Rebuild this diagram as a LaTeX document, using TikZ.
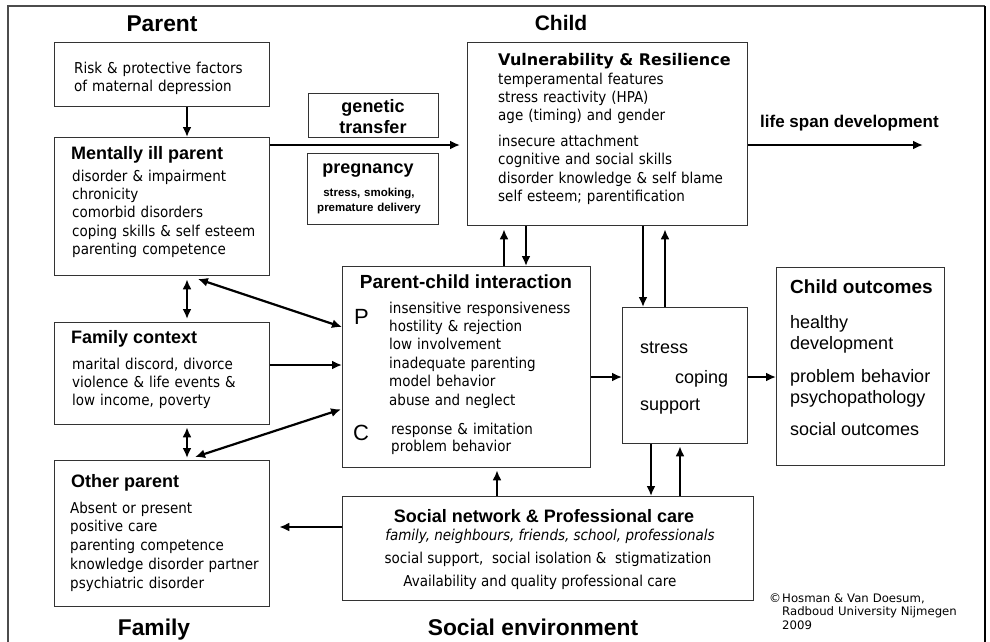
\documentclass[tikz,border=0pt]{standalone}
\usepackage{fontspec}
\usetikzlibrary{arrows.meta}
\newfontfamily\arialf{Liberation Sans}
\newfontfamily\tahf{DejaVu Sans Condensed}
\newfontfamily\verdf{DejaVu Sans}
\begin{document}
\begin{tikzpicture}[x=1pt,y=-1pt,
  box/.style={draw=black!80, line width=1.3pt, inner sep=0pt, anchor=north west},
  txt/.style={inner sep=0pt, anchor=base west, text width=#1, align=left,
     font={\tahf\fontsize{15}{18.4}\selectfont}},
  txt/.default=260pt,
  ttl/.style={inner sep=0pt, anchor=base west, font={\arialf\bfseries\fontsize{18}{21}\selectfont}},
  head/.style={inner sep=0pt, anchor=base, font={\arialf\bfseries\fontsize{22.8}{26}\selectfont}},
  arr/.style={line width=2.2pt, -{Latex[length=10pt,width=9pt]}},
  darr/.style={line width=2.2pt, {Latex[length=10pt,width=9pt]}-{Latex[length=10pt,width=9pt]}},
  ar/.style={inner sep=0pt, anchor=base west, font={\arialf\fontsize{18}{21}\selectfont}}
]
\useasboundingbox (0,0) rectangle (990,641);
\fill[white] (0,0) rectangle (990,641);
\begin{scope}
\clip (0,0) rectangle (990,641);
\draw[black!70, line width=1.4pt] (8,660) -- (8,6) -- (985,6);
\draw[black, line width=2.4pt] (985,6) -- (985,660);
\end{scope}

% headings
\node[head] (hparent) at (162,31) {Parent};
\node[head, font={\arialf\bfseries\fontsize{21}{24}\selectfont}] (hchild) at (561,30) {Child};
\node[head] (hfamily) at (154,635) {Family};
\node[head] (hsocial) at (533,635) {Social environment};

% boxes
\node[box, minimum width=215pt, minimum height=64pt] (risk) at (54,42) {};
\node[box, minimum width=215pt, minimum height=138pt] (mip) at (54,137) {};
\node[box, minimum width=215pt, minimum height=102pt] (fam) at (54,322) {};
\node[box, minimum width=215pt, minimum height=146pt] (oth) at (54,460) {};
\node[box, minimum width=130pt, minimum height=44pt] (gen) at (308,93) {};
\node[box, minimum width=131pt, minimum height=71pt] (preg) at (307,153) {};
\node[box, minimum width=280pt, minimum height=183pt] (vuln) at (467,42) {};
\node[box, minimum width=248pt, minimum height=201pt] (pci) at (342,266) {};
\node[box, minimum width=125pt, minimum height=136pt] (str) at (622,307) {};
\node[box, minimum width=168pt, minimum height=198pt] (out) at (776,267) {};
\node[box, minimum width=411pt, minimum height=104pt] (soc) at (342,496) {};

% texts: risk
\node[txt] (trisk) at (74,73) {Risk \& protective factors\\of maternal depression};
% mentally ill parent
\node[ttl] (tmip) at (71,159) {Mentally ill parent};
\node[txt] (lmip) at (72,181) {disorder \& impairment\\chronicity\\comorbid disorders\\coping skills \& self esteem\\parenting competence};
% family context
\node[ttl] (tfam) at (71,343) {Family context};
\node[txt] (lfam) at (72,369) {marital discord, divorce\\violence \& life events \&\\low income, poverty};
% other parent
\node[ttl] (toth) at (71,487) {Other parent};
\node[txt, font={\tahf\fontsize{15}{18.9}\selectfont}] (loth) at (70,513) {Absent or present\\positive care\\parenting competence\\knowledge disorder partner\\psychiatric disorder};
% genetic / pregnancy
\node[inner sep=0pt, anchor=base, text width=130pt, align=center,
      font={\arialf\bfseries\fontsize{18}{21}\selectfont}] (tgen) at (373,112) {genetic\\transfer};
\node[inner sep=0pt, anchor=base, text width=130pt, align=center,
      font={\arialf\bfseries\fontsize{18}{21}\selectfont}] (tpreg) at (368,173) {pregnancy};
\node[inner sep=0pt, anchor=base, text width=130pt, align=center,
      font={\arialf\bfseries\fontsize{11.5}{15}\selectfont}] (lpreg) at (369,196) {stress, smoking,\\premature delivery};
% vulnerability
\node[inner sep=0pt, anchor=base west, font={\verdf\bfseries\fontsize{16}{19}\selectfont}] (tvuln) at (498,65) {Vulnerability \& Resilience};
\node[txt] (lvuln) at (498,84) {temperamental features\\stress reactivity (HPA)\\age (timing) and gender\\[7pt]insecure attachment\\cognitive and social skills\\disorder knowledge \& self blame\\self esteem; parentification};
\node[inner sep=0pt, anchor=base west, font={\arialf\bfseries\fontsize{17}{20}\selectfont}] (tlife) at (760,127) {life span development};
% parent-child interaction
\node[inner sep=0pt, anchor=base, font={\arialf\bfseries\fontsize{19}{22}\selectfont}] (tpci) at (466,288) {Parent-child interaction};
\node[inner sep=0pt, anchor=base west, font={\arialf\fontsize{22}{24}\selectfont}] (pP) at (354,324) {P};
\node[txt] (lpciP) at (389,313) {insensitive responsiveness\\hostility \& rejection\\low involvement\\inadequate parenting\\model behavior\\abuse and neglect};
\node[inner sep=0pt, anchor=base west, font={\arialf\fontsize{22}{24}\selectfont}] (pC) at (353,440) {C};
\node[txt, font={\tahf\fontsize{15}{17}\selectfont}] (lpciC) at (391,434) {response \& imitation\\problem behavior};
% stress
\node[ar] (tstress) at (640,353) {stress};
\node[ar] (tcoping) at (675,383) {coping};
\node[ar] (tsupport) at (640,410) {support};
% child outcomes
\node[inner sep=0pt, anchor=base west, font={\arialf\bfseries\fontsize{19}{22}\selectfont}] (tout) at (790,293) {Child outcomes};
\node[ar, text width=150pt, align=left] (lout1) at (790,328) {healthy\\development};
\node[ar, text width=150pt, align=left] (lout2) at (790,382) {problem behavior\\psychopathology};
\node[ar] (lout3) at (790,435) {social outcomes};
% social network
\node[inner sep=0pt, anchor=base, font={\arialf\bfseries\fontsize{18}{21}\selectfont}] (tsoc) at (544,522) {Social network \& Professional care};
\node[inner sep=0pt, anchor=base, font={\tahf\itshape\fontsize{15}{18}\selectfont}] (lsoc1) at (550,540) {family, neighbours, friends, school, professionals};
\node[inner sep=0pt, anchor=base, font={\tahf\fontsize{15}{18}\selectfont}] (lsoc2) at (548,563) {social support,\ \ social isolation \&\ \ stigmatization};
\node[inner sep=0pt, anchor=base, font={\tahf\fontsize{15}{18}\selectfont}] (lsoc3) at (540,586) {Availability and quality professional care};
% copyright
\node[inner sep=0pt, anchor=base west, font={\verdf\fontsize{12}{14}\selectfont}] (copy) at (769,602) {©};
\node[inner sep=0pt, anchor=base west, text width=200pt, align=left, font={\verdf\fontsize{11.7}{13.7}\selectfont}] (tcopy) at (782,602) {Hosman \& Van Doesum,\\Radboud University Nijmegen\\2009};

% connectors
\coordinate (lifeend) at (923,145);
\draw[arr] (risk.south -| 187,0) -- (mip.north -| 187,0);
\draw[arr, shorten >=7pt] (mip.east |- 0,145) -- (vuln.west |- 0,145);
\draw[arr] (vuln.east |- 0,145) -- (lifeend);
\draw[darr, shorten <=3pt, shorten >=3pt] (mip.south -| 187,0) -- (fam.north -| 187,0);
\draw[darr, shorten >=3pt] (pci.west |- 0,327) -- (195,278);
\draw[arr] (fam.east |- 0,365) -- (pci.west |- 0,365);
\draw[darr, shorten <=1pt] (pci.west |- 0,409) -- (195,457);
\draw[darr, shorten <=2pt, shorten >=2pt] (fam.south -| 187,0) -- (oth.north -| 187,0);
\draw[arr, shorten >=3pt] (pci.north -| 504,0) -- (vuln.south -| 504,0);
\draw[arr] (vuln.south -| 526,0) -- (pci.north -| 526,0);
\draw[arr] (vuln.south -| 643,0) -- (str.north -| 643,0);
\draw[arr, shorten >=3pt] (str.north -| 665,0) -- (vuln.south -| 665,0);
\draw[arr] (pci.east |- 0,377) -- (str.west |- 0,377);
\draw[arr] (str.east |- 0,377) -- (out.west |- 0,377);
\draw[arr] (str.south -| 651,0) -- (soc.north -| 651,0);
\draw[arr, shorten >=2pt] (soc.north -| 680,0) -- (str.south -| 680,0);
\draw[arr, shorten >=2pt] (soc.north -| 497,0) -- (pci.south -| 497,0);
\draw[arr, shorten >=9pt] (soc.west |- 0,527) -- (oth.east |- 0,527);
\end{tikzpicture}
\end{document}
